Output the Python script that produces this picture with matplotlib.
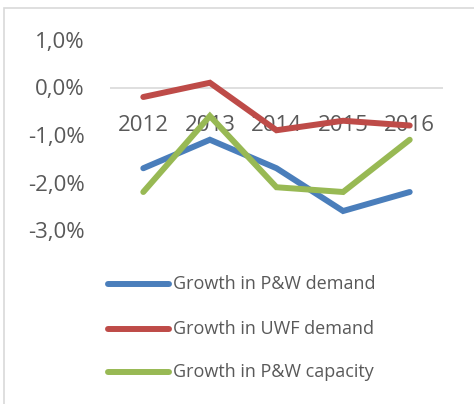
import matplotlib
matplotlib.use("Agg")
import matplotlib.pyplot as plt
from matplotlib.patches import Rectangle
from matplotlib.lines import Line2D

years = ["2012", "2013", "2014", "2015", "2016"]
pw_demand = [-1.7, -1.1, -1.7, -2.6, -2.2]
uwf_demand = [-0.2, 0.1, -0.9, -0.7, -0.8]
pw_capacity = [-2.2, -0.6, -2.1, -2.2, -1.1]
series_names = ["Growth in P&W demand", "Growth in UWF demand", "Growth in P&W capacity"]
colors = ["#4A7EBB", "#BE4B48", "#98B954"]
yticks = [1.0, 0.0, -1.0, -2.0, -3.0]

plt.rcParams['font.family'] = ['Open Sans', 'DejaVu Sans']
W, H = 474, 404
fig = plt.figure(figsize=(W / 100, H / 100), dpi=100)

# chart border
fig.patches.append(Rectangle((4 / W, -0.01), 1.0, 1 - 8 / H + 0.01, transform=fig.transFigure,
                             fill=False, edgecolor="#D9D9D9", linewidth=1.2))

left, right = 110 / W, 443 / W
top, bottom = 1 - 40 / H, 1 - 230 / H
ax = fig.add_axes([left, bottom, right - left, top - bottom])

x = list(range(len(years)))
for vals, name, c in zip([pw_demand, uwf_demand, pw_capacity], series_names, colors):
    ax.plot(x, vals, color=c, linewidth=4.3, solid_capstyle="round", solid_joinstyle="miter", label=name, zorder=3)

ax.set_xlim(-0.5, len(years) - 0.5)
ax.set_ylim(-3.0, 1.0)
ax.axhline(0, color="#D9D9D9", linewidth=1.2, zorder=1)
for s in ax.spines.values():
    s.set_visible(False)
ax.set_yticks(yticks)
ax.set_yticklabels([f"{v:.1f}%".replace(".", ",") for v in yticks], color="#595959", fontsize=16)
ax.tick_params(axis="y", length=0, pad=18)
ax.set_xticks([])
for xi, yr in zip(x, years):
    ax.text(xi, -0.79, yr, ha="center", va="center", color="#595959", fontsize=16, zorder=2)

# legend
leg_y = [284, 329, 372]
for yy, name, c in zip(leg_y, series_names, colors):
    fig.add_artist(Line2D([108 / W, 169 / W], [1 - yy / H, 1 - yy / H], color=c, linewidth=4.3,
                          solid_capstyle="round", transform=fig.transFigure))
    fig.text(173 / W, 1 - yy / H, name, ha="left", va="center", color="#595959", fontsize=13)

fig.savefig("out.png", dpi=100)
